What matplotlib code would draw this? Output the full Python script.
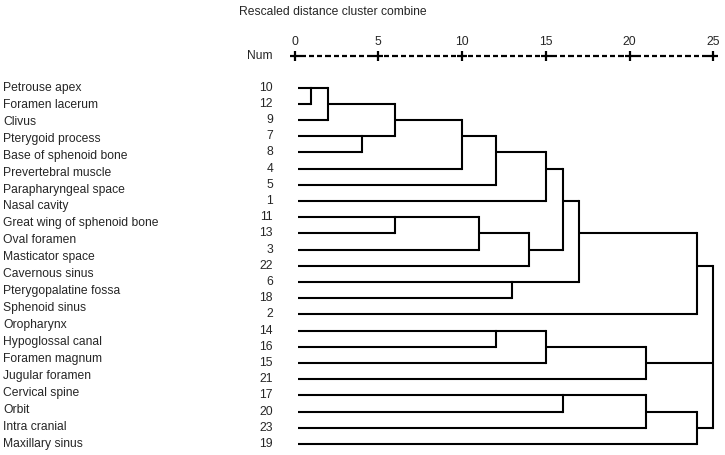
import matplotlib
matplotlib.use("Agg")
import matplotlib.pyplot as plt
import matplotlib.transforms as mtransforms

plt.rcParams['font.family'] = ['Liberation Sans', 'DejaVu Sans']

# ---- data ----
region_labels = ["Petrouse apex", "Foramen lacerum", "Clivus", "Pterygoid process",
                 "Base of sphenoid bone", "Prevertebral muscle", "Parapharyngeal space",
                 "Nasal cavity", "Great wing of sphenoid bone", "Oval foramen",
                 "Masticator space", "Cavernous sinus", "Pterygopalatine fossa",
                 "Sphenoid sinus", "Oropharynx", "Hypoglossal canal", "Foramen magnum",
                 "Jugular foramen", "Cervical spine", "Orbit", "Intra cranial",
                 "Maxillary sinus"]
leaf_nums = [10, 12, 9, 7, 8, 4, 5, 1, 11, 13, 3, 22, 6, 18, 2, 14, 16, 15, 21, 17, 20, 23, 19]
axis_ticks = [0, 5, 10, 15, 20, 25]

# merges: members referenced as ("L", leaf row) or ("C", merge index); distance in rescaled units
merge_members = [
    [("L", 0), ("L", 1)],            # 0: 10+12
    [("C", 0), ("L", 2)],            # 1: +9
    [("L", 3), ("L", 4)],            # 2: 7+8
    [("C", 1), ("C", 2)],            # 3
    [("C", 3), ("L", 5)],            # 4: +4
    [("C", 4), ("L", 6)],            # 5: +5
    [("C", 5), ("L", 7)],            # 6: +1
    [("L", 8), ("L", 9)],            # 7: 11+13
    [("C", 7), ("L", 10)],           # 8: +3
    [("C", 8), ("L", 11)],           # 9: +22
    [("C", 6), ("C", 9)],            # 10
    [("L", 12), ("L", 13)],          # 11: 6+18
    [("C", 10), ("C", 11)],          # 12
    [("C", 12), ("L", 14)],          # 13: +2
    [("L", 15), ("L", 16)],          # 14: 14+16
    [("C", 14), ("L", 17)],          # 15: +15
    [("C", 15), ("L", 18)],          # 16: +21
    [("L", 19), ("L", 20)],          # 17: 17+20
    [("C", 17), ("L", 21)],          # 18: +23
    [("C", 18), ("L", 22)],          # 19: +19
    [("C", 13), ("C", 16), ("C", 19)],  # 20: final
]
merge_dist = [1, 2, 4, 6, 10, 12, 15, 6, 11, 14, 16, 13, 17, 24, 12, 15, 21, 16, 21, 24, 25]

# ---- layout ----
W, H = 725, 455
fig = plt.figure(figsize=(W / 100, H / 100), dpi=100)
x0_px, x25_px = 294.5, 713.3
r0_px, r22_px = 87.7, 444.0
ax = fig.add_axes([x0_px / W, 1 - r22_px / H, (x25_px - x0_px) / W, (r22_px - r0_px) / H])
ax.set_xlim(0, 25)
ax.set_ylim(len(leaf_nums) - 1, 0)
ax.axis('off')
px_per_row = (r22_px - r0_px) / (len(leaf_nums) - 1)

lw = 1.5
col = 'black'
leaf_start = 0.2
tc = '#262626'
fs = 8.7

# compute positions
row_of = {}
height_of = {}
def pos(m):
    kind, i = m
    if kind == "L":
        return i, leaf_start
    return row_of[i], merge_dist[i]

for k, members in enumerate(merge_members):
    d = merge_dist[k]
    rows = []
    for m in members:
        r, x = pos(m)
        rows.append(r)
        ax.plot([x, d], [r, r], color=col, lw=lw, clip_on=False, solid_capstyle='butt')
    ax.plot([d, d], [min(rows), max(rows)], color=col, lw=lw, clip_on=False, solid_capstyle='projecting')
    row_of[k] = (min(rows) + max(rows)) // 2

# leaf numbers
fig_x = mtransforms.blended_transform_factory(fig.transFigure, ax.transData)
for r, n in enumerate(leaf_nums):
    ax.text(273 / W, r, str(n), transform=fig_x, ha='right', va='center', fontsize=fs, color=tc)

# region labels (spread over the same vertical span)
n_lab = len(region_labels)
for i, lab in enumerate(region_labels):
    y = i * (len(leaf_nums) - 1) / (n_lab - 1)
    ax.text(3 / W, y, lab, transform=fig_x, ha='left', va='center', fontsize=fs, color=tc)

# axis header
y_axis = (56 - r0_px) / px_per_row
y_tick = (42 - r0_px) / px_per_row
ax.text(273 / W, y_axis, "Num", transform=fig_x, ha='right', va='center', fontsize=fs, color=tc)
for t in axis_ticks:
    ax.text(t, y_tick, str(t), ha='center', va='center', fontsize=fs, color=tc)
ax.plot(axis_ticks, [y_axis] * len(axis_ticks), linestyle='none', marker='+', ms=7,
        mew=1.6, color=col, clip_on=False)
for a, b in zip(axis_ticks[:-1], axis_ticks[1:]):
    step = (b - a) / 10
    for k in range(1, 10):
        c = a + k * step
        ax.plot([c - 0.16, c + 0.16], [y_axis, y_axis], color=col, lw=1.6,
                solid_capstyle='butt', clip_on=False)

fig.text(332.5 / W, 1 - 12 / H, "Rescaled distance cluster combine", ha='center', va='center',
         fontsize=fs, color=tc)

fig.savefig("out.png", dpi=100)
